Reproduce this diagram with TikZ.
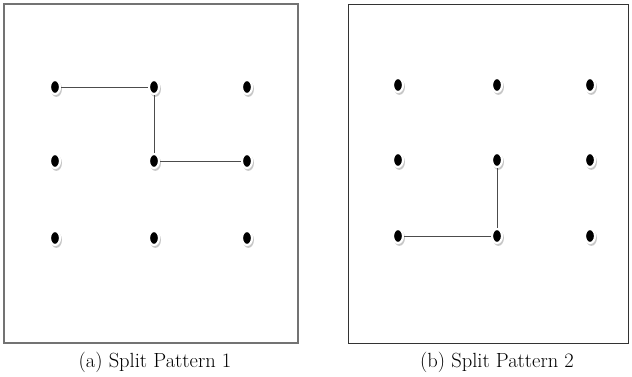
\documentclass[tikz,border=0pt]{standalone}
\usepackage{tikz}
\usetikzlibrary{shapes.geometric, shadows}

\begin{document}
\begin{tikzpicture}[x=1pt, y=-1pt,
        pin/.style={ellipse, fill=black, draw=white, line width=2.2pt, minimum width=10pt, minimum height=14pt, inner sep=0pt,
            drop shadow={shadow xshift=1.2pt, shadow yshift=-1.8pt, shadow scale=1.12, opacity=0.55, fill=gray!80}},
        link/.style={draw=black!70, line width=0.7pt},
        caption/.style={font=\fontsize{20.5}{24}\selectfont}]
        \useasboundingbox (0, 0) rectangle (632, 377);
        % left panel
        \draw [black!55, line width=1.1pt] (4, 4) rectangle (298, 343);
        \foreach \i/\x in {1/55, 2/154, 3/247}
            \foreach \j/\y in {1/87, 2/161, 3/238}
                \node [pin] (a\i\j) at (\x, \y) {};
        \draw [link] (a11) -- (a21) -- (a22) -- (a32);
        \node [caption] (capa) at (155, 362) {(a) Split Pattern 1};
        % right panel
        \draw [black!80, line width=0.9pt] (348, 4) rectangle (628, 343);
        \foreach \i/\x in {1/398, 2/497, 3/590}
            \foreach \j/\y in {1/85, 2/160, 3/236}
                \node [pin] (b\i\j) at (\x, \y) {};
        \draw [link] (b22) -- (b23) -- (b13);
        \node [caption] (capb) at (497, 362) {(b) Split Pattern 2};
    \end{tikzpicture}
\end{document}
